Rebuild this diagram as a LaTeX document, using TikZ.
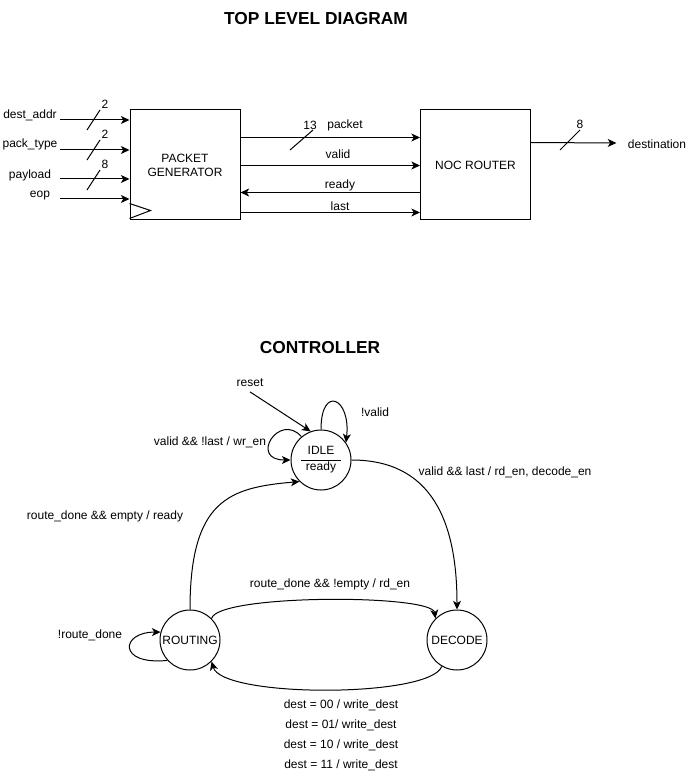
\documentclass[tikz,border=0pt]{standalone}
\usepackage{fontspec}
\setmainfont{Liberation Sans}
\usetikzlibrary{arrows.meta,calc,positioning}

\tikzset{every picture/.style={line width=0.75pt}}
\tikzset{
	sig/.style={-{Stealth[length=6.5pt,width=6pt,inset=1.8pt]}},
	blockbox/.style={draw, minimum width=82.5pt, minimum height=82.5pt, align=center, inner sep=0pt},
	fsmstate/.style={draw, circle, minimum size=45pt, inner sep=0pt, align=center},
	ttl/.style={font=\fontsize{13}{15}\selectfont\bfseries}}

\begin{document}
\begin{tikzpicture}[x=0.75pt,y=0.75pt,yscale=-1,xscale=1, every node/.style={font=\fontsize{9}{10.5}\selectfont}]
	\useasboundingbox (0,0) rectangle (695,780);

	% Text Node
	\node[ttl] (topTitle) at (316,19) {TOP LEVEL DIAGRAM};

	%Shape: Rectangle [packet generator]
	\node[blockbox] (gen) at (185,165) {PACKET\\GENERATOR};
	%Shape: Rectangle [noc router]
	\node[blockbox] (noc) at (475.5,165) {NOC ROUTER};
	%Shape: Triangle [clock]
	\draw ($(gen.south west)+(0,-17)$) -- ($(gen.south west)+(21,-10)$) -- ($(gen.south west)+(0,-2)$);

	% Text Node
	\node (lblAddr) at (30,115) {dest\_addr};
	% Text Node
	\node (lblType) at (30,144) {pack\_type};
	% Text Node
	\node (lblLoad) at (30,175) {payload};
	% Text Node
	\node (lblEop) at (40,196) {eop};

	\coordinate (inAddr) at (60,120);
	\coordinate (inType) at (60,150);
	\coordinate (inLoad) at (60,179);
	\coordinate (inEop) at (60,199);
	\draw[sig] (inAddr) -- (inAddr -| gen.west);
	\draw[sig] (inType) -- (inType -| gen.west);
	\draw[sig] (inLoad) -- (inLoad -| gen.west);
	\draw[sig] (inEop) -- (inEop -| gen.west);

	%Shape: bus width marks
	\draw (87,130) -- (100,110);
	\draw (87,160) -- (100,140);
	\draw (87,190) -- (100,170);
	% Text Node
	\node (wAddr) at (105,104) {2};
	% Text Node
	\node (wType) at (105,134) {2};
	% Text Node
	\node (wLoad) at (105,164) {8};

	% packet / valid / ready / last
	\draw[sig] ($(gen.north east)+(0,28)$) -- ($(noc.north west)+(0,28)$);
	\draw[sig] ($(gen.north east)+(0,56)$) -- ($(noc.north west)+(0,56)$);
	\draw[sig] ($(noc.north west)+(0,83)$) -- ($(gen.north east)+(0,83)$);
	\draw[sig] ($(gen.north east)+(0,103)$) -- ($(noc.north west)+(0,103)$);
	\draw (290,150) -- (313,130);
	% Text Node
	\node (wPacket) at (310,125) {13};
	% Text Node
	\node (lblPacket) at (345,125) {packet};
	% Text Node
	\node (lblValid) at (338,154) {valid};
	% Text Node
	\node (lblReadyTop) at (340,185) {ready};
	% Text Node
	\node (lblLast) at (340,206) {last};

	% Text Node
	\node (dst) at (657,144) {destination};
	\draw[sig] ($(noc.north east)+(0,33)$) -- ([xshift=-5pt]dst.west |- 0,143);
	\draw (560,150) -- (580,130);
	% Text Node
	\node (wDest) at (580,124) {8};

	% Text Node
	\node[ttl] (ctrlTitle) at (320,348) {CONTROLLER};

	%Shape: Circle [states]
	\node[fsmstate] (idle) at (321,460) {IDLE\\[1.5pt]ready};
	\draw ($(idle.center)+(-20,0)$) -- ($(idle.center)+(20,0)$);
	\node[fsmstate] (routing) at (190,640) {ROUTING};
	\node[fsmstate] (decode) at (457,640) {DECODE};

	% Text Node
	\node (lblReset) at (250,383) {reset};
	% Text Node
	\node (lblNotValid) at (375,412) {!valid};
	% Text Node
	\node (lblWr) at (210,442) {valid \&\& !last / wr\_en};
	% Text Node
	\node (lblRd) at (505,472) {valid \&\& last / rd\_en, decode\_en};
	% Text Node
	\node (lblReady) at (105,516) {route\_done \&\& empty / ready};
	% Text Node
	\node (lblRdEn) at (330,584) {route\_done \&\& !empty / rd\_en};
	% Text Node
	\node (lblNotDone) at (90,635) {!route\_done};
	% Text Node
	\node (lblDest0) at (341,705) {dest = 00 / write\_dest};
	% Text Node
	\node (lblDest1) at (341,725) {dest = 01/ write\_dest};
	% Text Node
	\node (lblDest2) at (341,745) {dest = 10 / write\_dest};
	% Text Node
	\node (lblDest3) at (341,765) {dest = 11 / write\_dest};

	% transitions
	\draw[sig] (lblReset.south) -- (idle.110);
	\draw[sig] (idle.north) .. controls +(0,-45) and +(5,-45) .. (idle.35);
	\draw[sig] (idle.130) .. controls +(-22,-25) and +(-42,0) .. (idle.west);
	\draw[sig] (idle.east) .. controls +(79,0) and +(0,-90) .. (decode.north);
	\draw[sig] (routing.north) .. controls +(0,-110) and +(-70,6) .. (idle.225);
	\draw[sig] (routing.45) .. controls (218,594) and (432,594) .. (decode.135);
	\draw[sig] (decode.240) .. controls (430,698) and (222,698) .. (routing.315);
	\draw[sig] (routing.222) .. controls +(-50,5) and +(-40,0) .. (routing.165);

\end{tikzpicture}
\end{document}
